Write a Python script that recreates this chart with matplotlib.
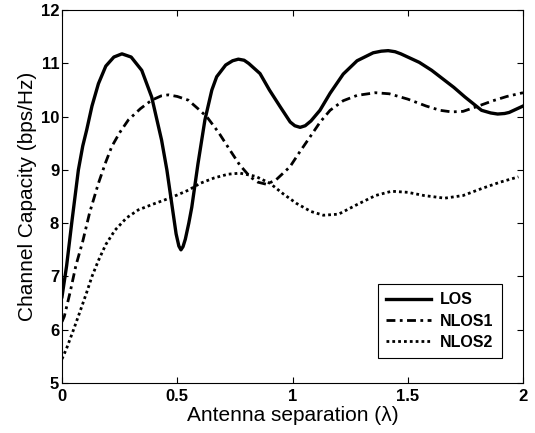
import matplotlib
matplotlib.use("Agg")
import matplotlib.pyplot as plt

# LOS (solid)
los_x = [0, 0.02, 0.042, 0.071, 0.09, 0.107, 0.13, 0.158, 0.19, 0.225, 0.26, 0.3, 0.346,
         0.389, 0.432, 0.455, 0.476, 0.495, 0.507, 0.516, 0.525, 0.535, 0.55, 0.563, 0.59,
         0.62, 0.65, 0.671, 0.71, 0.74, 0.765, 0.79, 0.81, 0.859, 0.9, 0.946, 0.99, 1.01,
         1.033, 1.055, 1.08, 1.119, 1.163, 1.22, 1.28, 1.35, 1.385, 1.415, 1.445, 1.47,
         1.55, 1.604, 1.7, 1.748, 1.82, 1.86, 1.89, 1.92, 1.94, 2.0]
los_y = [6.62, 7.2, 8.0, 9.0, 9.45, 9.75, 10.2, 10.62, 10.95, 11.12, 11.18, 11.12, 10.87,
         10.37, 9.56, 9.0, 8.37, 7.8, 7.57, 7.5, 7.56, 7.7, 8.0, 8.3, 9.12,
         9.94, 10.5, 10.75, 10.97, 11.05, 11.08, 11.06, 11.0, 10.81, 10.5, 10.19, 9.9, 9.83,
         9.8, 9.83, 9.92, 10.12, 10.44, 10.8, 11.05, 11.2, 11.23, 11.24, 11.22, 11.18,
         11.02, 10.87, 10.55, 10.37, 10.12, 10.07, 10.05, 10.06, 10.08, 10.2]

# NLOS1 (dash-dot)
nlos1_x = [0, 0.01, 0.035, 0.06, 0.09, 0.12, 0.158, 0.19, 0.216, 0.25, 0.288, 0.34, 0.389,
           0.43, 0.461, 0.5, 0.548, 0.59, 0.628, 0.68, 0.729, 0.77, 0.816, 0.85, 0.888,
           0.93, 0.989, 1.03, 1.076, 1.12, 1.163, 1.22, 1.28, 1.36, 1.42, 1.5, 1.58, 1.64,
           1.69, 1.74, 1.8, 1.87, 1.93, 2.0]
nlos1_y = [6.15, 6.25, 6.7, 7.2, 7.66, 8.2, 8.75, 9.15, 9.44, 9.7, 9.94, 10.15, 10.31,
           10.39, 10.41, 10.38, 10.31, 10.15, 10.0, 9.7, 9.37, 9.1, 8.87, 8.77, 8.73,
           8.82, 9.06, 9.33, 9.62, 9.9, 10.12, 10.3, 10.4, 10.45, 10.43, 10.33, 10.2, 10.12,
           10.09, 10.1, 10.19, 10.3, 10.38, 10.45]

# NLOS2 (dotted)
nlos2_x = [0, 0.02, 0.05, 0.078, 0.107, 0.13, 0.158, 0.19, 0.23, 0.28, 0.331, 0.39, 0.447,
           0.5, 0.548, 0.6, 0.66, 0.72, 0.772, 0.84, 0.902, 0.96, 1.018, 1.08, 1.134, 1.2,
           1.28, 1.36, 1.43, 1.5, 1.57, 1.66, 1.74, 1.82, 1.9, 1.98]
nlos2_y = [5.45, 5.65, 6.0, 6.34, 6.7, 7.0, 7.3, 7.6, 7.87, 8.1, 8.25, 8.35, 8.44,
           8.53, 8.62, 8.75, 8.85, 8.92, 8.94, 8.88, 8.75, 8.55, 8.37, 8.22, 8.15, 8.17,
           8.35, 8.52, 8.6, 8.58, 8.52, 8.47, 8.52, 8.65, 8.77, 8.87]

x_ticks = [0, 0.5, 1, 1.5, 2]
x_tick_labels = ["0", "0.5", "1", "1.5", "2"]
y_ticks = [5, 6, 7, 8, 9, 10, 11, 12]

plt.rcParams["font.family"] = ["Liberation Sans", "DejaVu Sans"]

fig = plt.figure(figsize=(5.35, 4.33), dpi=100)
ax = fig.add_axes([0.1159, 0.1155, 0.8617, 0.861])

ax.plot(los_x, los_y, color="black", linewidth=2.4, linestyle="-", label="LOS")
ax.plot(nlos1_x, nlos1_y, color="black", linewidth=2.0,
        linestyle=(0, (3.2, 1.6, 1.0, 1.6)), label="NLOS1")
ax.plot(nlos2_x, nlos2_y, color="black", linewidth=2.0,
        linestyle=(0, (1.0, 1.1)), label="NLOS2")

ax.set_xlim(0, 2)
ax.set_ylim(5, 12)
ax.set_xticks(x_ticks)
ax.set_xticklabels(x_tick_labels)
ax.set_yticks(y_ticks)
ax.tick_params(direction="in", top=True, right=True, length=4, width=0.8,
               labelsize=12, pad=2)
ax.tick_params(axis="x", pad=4)
for lbl in ax.get_xticklabels() + ax.get_yticklabels():
    lbl.set_fontweight("bold")
for s in ax.spines.values():
    s.set_linewidth(0.8)

ax.set_xlabel("Antenna separation (λ)", fontsize=15, labelpad=2)
ax.set_ylabel("Channel Capacity (bps/Hz)", fontsize=15, labelpad=3)

leg = ax.legend(loc="lower right", bbox_to_anchor=(0.954, 0.067), borderaxespad=0,
                fancybox=False, edgecolor="black", framealpha=1, handlelength=2.8,
                prop={"weight": "bold", "size": 11.5}, borderpad=0.5,
                labelspacing=0.4, handletextpad=0.6)
leg.get_frame().set_linewidth(0.8)

fig.savefig("out.png", dpi=100)
